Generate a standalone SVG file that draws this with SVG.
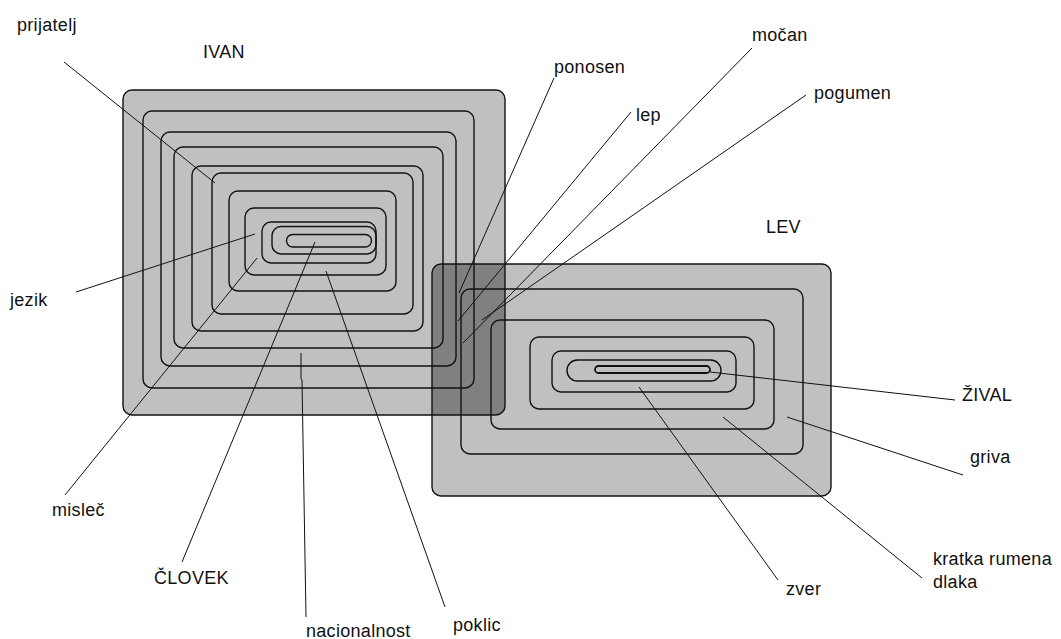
<svg xmlns="http://www.w3.org/2000/svg" width="1061" height="639" viewBox="0 0 1061 639">
<style>
.bg{fill:#c0c0c0;stroke:none}
.ov{fill:#808080;stroke:none}
.r{fill:none;stroke:#111;stroke-width:1.4}
.c{fill:none;stroke:#111;stroke-width:1}
text{font-family:"Liberation Sans",Arial,sans-serif;font-size:18px;fill:#111;letter-spacing:0.3px}
</style>
<defs>
<clipPath id="ivanClip"><rect x="123" y="90" width="382" height="325" rx="9"/></clipPath>
</defs>
<rect width="1061" height="639" fill="#fff"/>
<g id="fills">
<rect class="bg" x="123" y="90" width="382" height="325" rx="9"/>
<rect class="bg" x="432" y="264" width="399" height="232" rx="9"/>
<rect class="ov" x="432" y="264" width="399" height="232" rx="9" clip-path="url(#ivanClip)"/>
</g>
<g id="IVAN">
<rect class="r" x="123" y="90" width="382" height="325" rx="9"/>
<rect class="r" x="143" y="111" width="331" height="277" rx="9"/>
<rect class="r" x="161" y="132" width="295" height="234" rx="9"/>
<rect class="r" x="174" y="147" width="269" height="201" rx="9"/>
<rect class="r" x="192" y="166" width="231" height="165" rx="9"/>
<rect class="r" x="212" y="173" width="201" height="141" rx="9"/>
<rect class="r" x="229" y="191" width="167" height="100" rx="9"/>
<rect class="r" x="245" y="208" width="141" height="67" rx="9"/>
<rect class="r" x="262" y="222" width="114" height="41" rx="9"/>
<rect class="r" x="272" y="226.5" width="104" height="27.5" rx="9"/>
<rect class="r" x="286.5" y="234.5" width="85" height="12.5" rx="6.25"/>
<text x="203" y="58">IVAN</text>
</g>
<g id="LEV">
<rect class="r" x="432" y="264" width="399" height="232" rx="9"/>
<rect class="r" x="461" y="289" width="342" height="165" rx="9"/>
<rect class="r" x="491" y="320" width="283" height="109" rx="9"/>
<rect class="r" x="530" y="337" width="224" height="72" rx="9"/>
<rect class="r" x="552" y="351" width="184" height="41" rx="9"/>
<rect class="r" x="567" y="360" width="154" height="21" rx="10.5"/>
<rect class="r" x="595" y="366" width="115" height="7" rx="3.5" style="stroke-width:1.8"/>
<text x="766" y="233">LEV</text>
</g>
<g id="connectors">
<line class="c" x1="64" y1="62" x2="215" y2="183"/>
<line class="c" x1="76" y1="292" x2="255" y2="234"/>
<line class="c" x1="65" y1="495" x2="257" y2="258"/>
<line class="c" x1="182" y1="562" x2="315" y2="242"/>
<polyline class="c" points="301,353 301,379 302,380 306,617"/>
<line class="c" x1="326" y1="271" x2="445" y2="607"/>
<line class="c" x1="554" y1="78" x2="459" y2="293"/>
<line class="c" x1="631" y1="112" x2="458" y2="321"/>
<line class="c" x1="752" y1="48" x2="463" y2="343"/>
<line class="c" x1="806" y1="95" x2="482" y2="320"/>
<line class="c" x1="710" y1="372" x2="955" y2="400"/>
<line class="c" x1="787" y1="417" x2="963" y2="475"/>
<line class="c" x1="639" y1="387" x2="778" y2="580"/>
<line class="c" x1="723" y1="417" x2="922" y2="578"/>
</g>
<g id="label-prijatelj"><text x="17" y="31">prijatelj</text></g>
<g id="label-ponosen"><text x="554" y="73">ponosen</text></g>
<g id="label-mocan"><text x="752" y="41">močan</text></g>
<g id="label-lep"><text x="636" y="121">lep</text></g>
<g id="label-pogumen"><text x="814" y="99">pogumen</text></g>
<g id="label-jezik"><text x="10" y="306">jezik</text></g>
<g id="label-mislec"><text x="52" y="516">misleč</text></g>
<g id="label-clovek"><text x="154" y="584">ČLOVEK</text></g>
<g id="label-nacionalnost"><text x="306" y="637">nacionalnost</text></g>
<g id="label-poklic"><text x="453" y="631">poklic</text></g>
<g id="label-zival"><text x="962" y="401">ŽIVAL</text></g>
<g id="label-griva"><text x="970" y="463">griva</text></g>
<g id="label-kratka"><text x="933" y="565">kratka rumena</text><text x="933" y="588">dlaka</text></g>
<g id="label-zver"><text x="786" y="595">zver</text></g>
</svg>
